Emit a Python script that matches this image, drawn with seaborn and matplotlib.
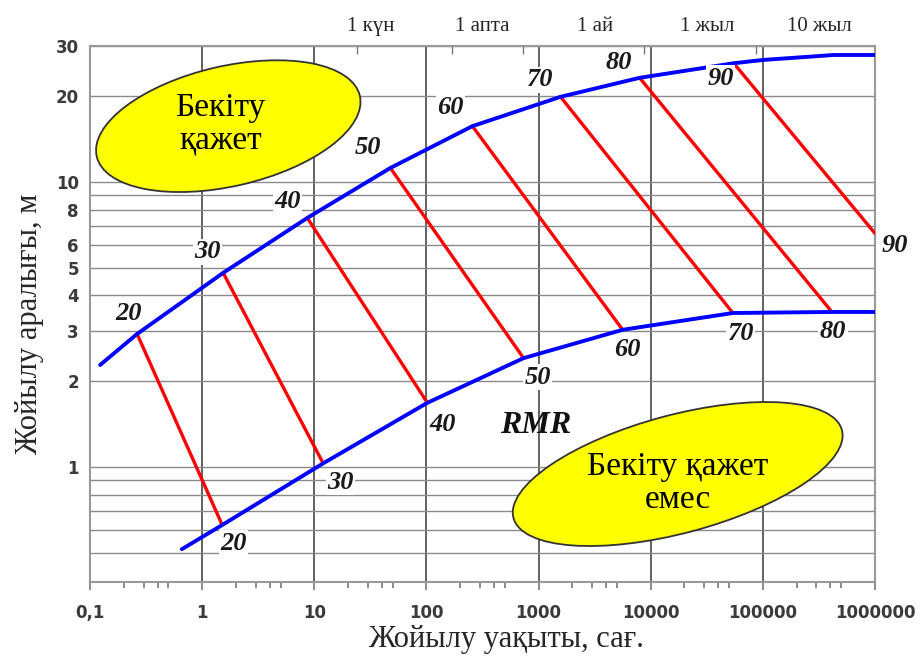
import numpy as np
import pandas as pd
import matplotlib
matplotlib.use('Agg')  # no display, just save
import matplotlib.pyplot as plt
from matplotlib.patches import Ellipse
from matplotlib.ticker import FixedLocator, LogLocator, NullFormatter
import seaborn as sns

# RMR classes marked on the two boundary curves
rmr_levels = [20, 30, 40, 50, 60, 70, 80, 90]

# upper boundary (span, m  vs  stand-up time, h)
upper_time = [0.123, 0.263, 1.54, 8.66, 47.7, 257, 1570, 7960, 55000, 100000, 430000, 1000000]
upper_span = [2.28, 2.93, 4.8, 7.48, 11.2, 15.7, 19.9, 23.2, 26.1, 26.8, 27.9, 27.9]

# lower boundary
lower_time = [0.66, 1.51, 12.0, 102, 735, 5620, 54000, 413000, 1000000]
lower_span = [0.515, 0.626, 1.03, 1.68, 2.41, 3.03, 3.47, 3.50, 3.50]

# ends of the red RMR lines
rmr_top_time = [0.263, 1.54, 8.66, 47.7, 257, 1570, 7960, 55000]
rmr_top_span = [2.93, 4.8, 7.48, 11.2, 15.7, 19.9, 23.2, 26.1]
rmr_bot_time = [1.51, 12.0, 102, 735, 5620, 54000, 413000, 1000000]
rmr_bot_span = [0.626, 1.03, 1.68, 2.41, 3.03, 3.47, 3.50, 6.6]

# axis ticks
x_ticks = [0.1, 1, 10, 100, 1000, 10000, 100000, 1000000]
x_ticklabels = ['0,1', '1', '10', '100', '1000', '10000', '100000', '1000000']
y_ticks = [1, 2, 3, 4, 5, 6, 8, 10, 20, 30]
y_grid_extra = [0.5, 0.6, 0.7, 0.8, 0.9, 7, 9]

# top time scale
period_hours = [24, 168, 720, 8760, 87600]
period_label_pos = [31.6, 316, 3160, 31600, 316000]
period_labels = ['1 күн', '1 апта', '1 ай', '1 жыл', '10 жыл']

# label offsets in pixels (layout only)
top_offsets = [(-9, 20), (-16, 21), (-20, 16), (-22, 20), (-22, 19), (-20, 17), (-21, 15), (-13, -15)]
bot_offsets = [(11, -18), (17, -19), (15, -22), (14, -19), (5, -20), (8, -20), (1, -20), (20, -12)]

sns.set_style('white')
plt.rcParams['font.family'] = ['Liberation Serif', 'DejaVu Serif']

fig = plt.figure(figsize=(9.23, 6.61), dpi=100)
ax = fig.add_axes([90 / 923, 79 / 661, 785 / 923, 536 / 661])
ax.set_xscale('log')
ax.set_yscale('log')
ax.set_xlim(0.1, 1000000)
ax.set_ylim(0.395, 30)

# grid
ax.set_yticks(y_ticks)
ax.set_yticklabels([str(v) for v in y_ticks])
ax.yaxis.set_minor_locator(FixedLocator(y_grid_extra))
ax.yaxis.set_minor_formatter(NullFormatter())
ax.grid(which='both', axis='y', color='#8a8a8a', lw=1.0, zorder=0)
ax.set_xticks(x_ticks)
ax.set_xticklabels(x_ticklabels)
ax.xaxis.set_minor_locator(LogLocator(base=10, subs=(2, 3, 4, 5), numticks=20))
ax.xaxis.set_minor_formatter(NullFormatter())
ax.grid(which='major', axis='x', color='#555555', lw=1.3, zorder=0)
ax.set_axisbelow(True)

for sp in ax.spines.values():
    sp.set_color('#999999')
    sp.set_linewidth(1.5)

ax.tick_params(axis='y', which='both', length=0, pad=8, labelsize=12,
               labelcolor='#3a3a3a')
ax.tick_params(axis='x', which='major', direction='out', length=6, width=1.2,
               color='#777777', pad=10, labelsize=12, labelcolor='#3a3a3a')
ax.tick_params(axis='x', which='minor', direction='out', length=4, width=1.2,
               color='#777777')
for lab in ax.get_xticklabels() + ax.get_yticklabels():
    lab.set_family('DejaVu Sans')
    lab.set_fontweight('bold')

# boundary curves
sns.lineplot(x=upper_time, y=upper_span, color='#0000ff', lw=2.8, sort=False,
             ax=ax, zorder=5)
sns.lineplot(x=lower_time, y=lower_span, color='#0000ff', lw=2.8, sort=False,
             ax=ax, zorder=5)

# RMR lines
rmr_df = pd.DataFrame({
    'time': rmr_top_time + rmr_bot_time,
    'span': rmr_top_span + rmr_bot_span,
    'rmr': rmr_levels + rmr_levels,
})
sns.lineplot(data=rmr_df, x='time', y='span', units='rmr', estimator=None,
             color='#ff0000', lw=2.4, sort=False, ax=ax, zorder=4)
ax.set_xlabel('')
ax.set_ylabel('')

num_style = dict(fontsize=19, fontweight='bold', fontstyle='italic',
                 color='#1a1a1a', ha='center', va='center', zorder=6,
                 textcoords='offset pixels', annotation_clip=False,
                 bbox=dict(facecolor='white', edgecolor='none', pad=1))
for lvl, t, s, off in zip(rmr_levels, rmr_top_time, rmr_top_span, top_offsets):
    ax.annotate(str(lvl), xy=(t, s), xytext=off, **num_style)
for lvl, t, s, off in zip(rmr_levels, rmr_bot_time, rmr_bot_span, bot_offsets):
    ax.annotate(str(lvl), xy=(t, s), xytext=off, **num_style)

ax.text(940, 1.40, 'RMR', fontsize=23, fontweight='bold', fontstyle='italic',
        ha='center', va='center', color='#111111', zorder=6)

# yellow zones (size in inches, centre from data position)
def zone(cx, cy, w, h, angle, tx, ty, text):
    px, py = ax.transData.transform((cx, cy))
    e = Ellipse((px / fig.dpi, py / fig.dpi), w, h, angle=angle,
                transform=fig.dpi_scale_trans, facecolor='#ffff00',
                edgecolor='#333333', lw=1.3, zorder=7, clip_on=False)
    ax.add_patch(e)
    ax.text(tx, ty, text, fontsize=24, ha='center', va='center',
            multialignment='center', linespacing=1.1, color='black',
            zorder=8)

zone(1.71, 15.7, 2.7, 1.2, 13, 1.45, 16.0, 'Бекіту\nқажет')
zone(17400, 0.945, 3.4, 1.18, 15, 17400, 0.879, 'Бекіту қажет\nемес')

# top time scale
ax2 = ax.twiny()
ax2.set_xscale('log')
ax2.set_xlim(ax.get_xlim())
ax2.set_xticks(period_label_pos)
ax2.set_xticklabels(period_labels)
ax2.xaxis.set_minor_locator(FixedLocator(period_hours))
ax2.xaxis.set_minor_formatter(NullFormatter())
ax2.tick_params(axis='x', which='major', length=0, pad=7, labelsize=15)
ax2.tick_params(axis='x', which='minor', direction='in', length=6, width=1,
                color='#777777')
for sp in ax2.spines.values():
    sp.set_visible(False)

ax.set_xlabel('Жойылу уақыты, сағ.', fontsize=22)
ax.xaxis.set_label_coords(0.53, -0.08)
ax.set_ylabel('Жойылу аралығы, м', fontsize=22)
ax.yaxis.set_label_coords(-0.058, 0.48)

fig.savefig('out.png', dpi=100)
